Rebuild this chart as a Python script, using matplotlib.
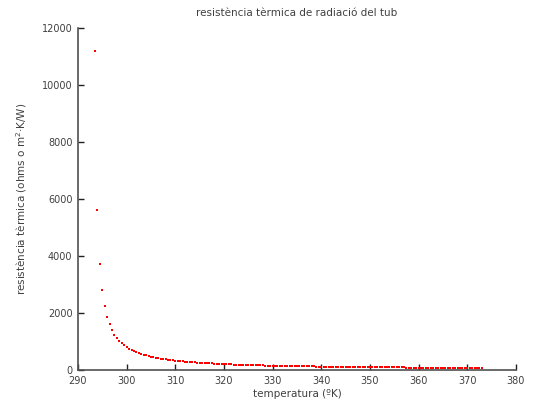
import matplotlib
matplotlib.use("Agg")
import matplotlib.pyplot as plt
from matplotlib import font_manager

# temperatura del tub (K)
temperatures = [
    293.5, 294.0, 294.5, 295.0, 295.5, 296.0, 296.5, 297.0, 297.5, 298.0,
    298.5, 299.0, 299.5, 300.0, 300.5, 301.0, 301.5, 302.0, 302.5, 303.0,
    303.5, 304.0, 304.5, 305.0, 305.5, 306.0, 306.5, 307.0, 307.5, 308.0,
    308.5, 309.0, 309.5, 310.0, 310.5, 311.0, 311.5, 312.0, 312.5, 313.0,
    313.5, 314.0, 314.5, 315.0, 315.5, 316.0, 316.5, 317.0, 317.5, 318.0,
    318.5, 319.0, 319.5, 320.0, 320.5, 321.0, 321.5, 322.0, 322.5, 323.0,
    323.5, 324.0, 324.5, 325.0, 325.5, 326.0, 326.5, 327.0, 327.5, 328.0,
    328.5, 329.0, 329.5, 330.0, 330.5, 331.0, 331.5, 332.0, 332.5, 333.0,
    333.5, 334.0, 334.5, 335.0, 335.5, 336.0, 336.5, 337.0, 337.5, 338.0,
    338.5, 339.0, 339.5, 340.0, 340.5, 341.0, 341.5, 342.0, 342.5, 343.0,
    343.5, 344.0, 344.5, 345.0, 345.5, 346.0, 346.5, 347.0, 347.5, 348.0,
    348.5, 349.0, 349.5, 350.0, 350.5, 351.0, 351.5, 352.0, 352.5, 353.0,
    353.5, 354.0, 354.5, 355.0, 355.5, 356.0, 356.5, 357.0, 357.5, 358.0,
    358.5, 359.0, 359.5, 360.0, 360.5, 361.0, 361.5, 362.0, 362.5, 363.0,
    363.5, 364.0, 364.5, 365.0, 365.5, 366.0, 366.5, 367.0, 367.5, 368.0,
    368.5, 369.0, 369.5, 370.0, 370.5, 371.0, 371.5, 372.0, 372.5, 373.0,
]

# resistencia termica de radiacio (m2.K/W)
resistance = [
    11200, 5600, 3733, 2800, 2240, 1867, 1600, 1400, 1244, 1120,
    1018, 933, 862, 800, 747, 700, 659, 622, 589, 560,
    533, 509, 487, 467, 448, 431, 415, 400, 386, 373,
    361, 350, 339, 329, 320, 311, 303, 295, 287, 280,
    273, 267, 260, 255, 249, 243, 238, 233, 229, 224,
    220, 215, 211, 207, 204, 200, 196, 193, 190, 187,
    184, 181, 178, 175, 172, 170, 167, 165, 162, 160,
    158, 156, 153, 151, 149, 147, 145, 144, 142, 140,
    138, 137, 135, 133, 132, 130, 129, 127, 126, 124,
    123, 122, 120, 119, 118, 117, 115, 114, 113, 112,
    111, 110, 109, 108, 107, 106, 105, 104, 103, 102,
    101, 100, 99, 98, 97, 97, 96, 95, 94, 93,
    93, 92, 91, 90, 90, 89, 88, 88, 87, 86,
    85, 85, 84, 84, 83, 82, 82, 81, 81, 80,
    79, 79, 78, 78, 77, 77, 76, 76, 75, 75,
    74, 74, 73, 73, 72, 72, 71, 71, 70, 70,
]

xticks = [290, 300, 310, 320, 330, 340, 350, 360, 370, 380]
yticks = [0, 2000, 4000, 6000, 8000, 10000, 12000]

names = {f.name for f in font_manager.fontManager.ttflist}
family = "Liberation Sans Narrow" if "Liberation Sans Narrow" in names else "DejaVu Sans"
plt.rcParams["font.family"] = [family, "DejaVu Sans"]

txt = "#404040"
fig = plt.figure(figsize=(5.33, 4.07), dpi=100)
ax = fig.add_axes([0.1463, 0.0909, 0.8217, 0.8403])

ax.plot(temperatures, resistance, linestyle="none", marker="s",
        markersize=1.8, color="red", markeredgewidth=0)

ax.set_xlim(290, 380)
ax.set_ylim(0, 12000)
ax.set_xticks(xticks)
ax.set_yticks(yticks)
ax.tick_params(direction="in", length=4, width=1, colors="#202020",
               labelcolor=txt, labelsize=7)
ax.tick_params(axis="x", pad=4.5)
ax.tick_params(axis="y", pad=4)
for side in ("top", "right"):
    ax.spines[side].set_visible(False)
for side in ("left", "bottom"):
    ax.spines[side].set_color("#505050")
    ax.spines[side].set_linewidth(1.2)

ax.set_title("resistència tèrmica de radiació del tub", fontsize=7.5,
             color=txt, pad=9)
ax.set_xlabel("temperatura (ºK)", fontsize=7.5, color=txt, labelpad=2)
ax.set_ylabel("resistència tèrmica (ohms o m$^2$·K/W)", fontsize=7.5,
              color=txt, labelpad=9)

fig.savefig("out.png", dpi=100)
